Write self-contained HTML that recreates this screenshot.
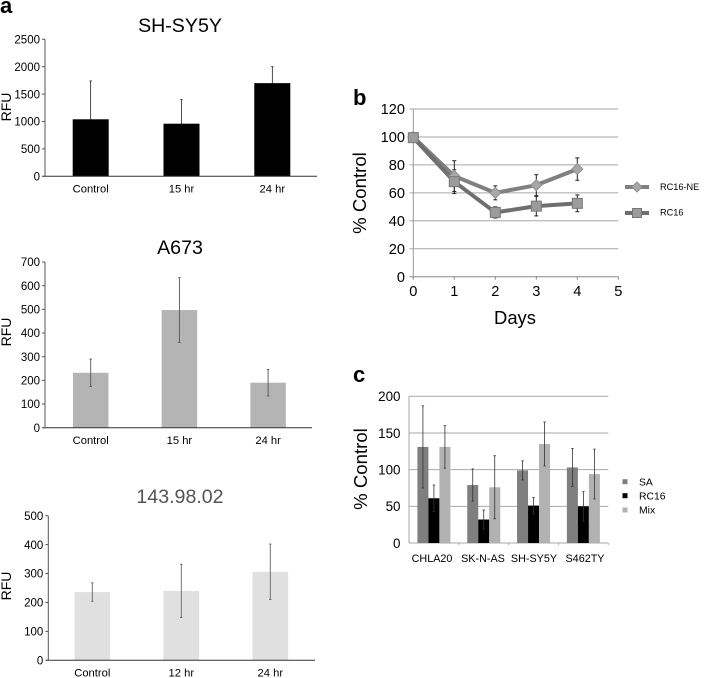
<!DOCTYPE html>
<html>
<head>
<meta charset="utf-8">
<title>RFU and percent control charts</title>
<style>
html,body{margin:0;padding:0;background:#fff;}
svg{display:block;font-family:"Liberation Sans",sans-serif;}
</style>
</head>
<body>
<svg id="figure" width="708" height="678" viewBox="0 0 708 678" xmlns="http://www.w3.org/2000/svg"></svg>
<script>
// Panel a data
const a1Categories = ['Control', '15 hr', '24 hr'];
const a1Values = [1040, 960, 1700];
const a1Errors = [700, 440, 300];
const a1Ticks = [0, 500, 1000, 1500, 2000, 2500];

const a2Categories = ['Control', '15 hr', '24 hr'];
const a2Values = [232, 497, 190];
const a2Errors = [58, 137, 56];
const a2Ticks = [0, 100, 200, 300, 400, 500, 600, 700];

const a3Categories = ['Control', '12 hr', '24 hr'];
const a3Values = [236, 240, 306];
const a3Errors = [32, 92, 96];
const a3Ticks = [0, 100, 200, 300, 400, 500];

// Panel b data
const bDays = [0, 1, 2, 3, 4];
const bNeValues = [100, 72, 60, 65.5, 77];
const bNeErrors = [0, 11, 5, 7.5, 8];
const bRc16Values = [99.5, 68, 46, 50.5, 52.5];
const bRc16Errors = [0, 8.5, 4, 7, 6];
const bXTicks = [0, 1, 2, 3, 4, 5];
const bYTicks = [0, 20, 40, 60, 80, 100, 120];

// Panel c data
const cCategories = ['CHLA20', 'SK-N-AS', 'SH-SY5Y', 'S462TY'];
const cSaValues = [131, 79, 99, 103];
const cSaErrors = [56, 22, 13, 26];
const cRc16Values = [61, 32, 51, 50];
const cRc16Errors = [18, 13, 11, 20];
const cMixValues = [131, 76, 135, 94];
const cMixErrors = [29, 43, 30, 34];
const cTicks = [0, 50, 100, 150, 200];

const SVGNS = 'http://www.w3.org/2000/svg';
const root = document.getElementById('figure');

function make(parent, tag, attrs, text) {
  const el = document.createElementNS(SVGNS, tag);
  for (const k in attrs) el.setAttribute(k, attrs[k]);
  if (text !== undefined) el.textContent = text;
  parent.appendChild(el);
  return el;
}
function linear(d0, d1, r0, r1) {
  return function (v) { return r0 + (v - d0) * (r1 - r0) / (d1 - d0); };
}
function label(parent, name, str, x, y, size, anchor, fill, extra) {
  const el = make(parent, 'text', Object.assign({ x: x, y: y, 'font-size': size, 'text-anchor': anchor, fill: fill }, extra || {}), str);
  
  
  return el;
}
function errorBar(parent, name, x, yTop, yBottom, color, capHalf, width) {
  const g = make(parent, 'g', { stroke: color, 'stroke-width': width, fill: 'none' });
  
  
  make(g, 'line', { x1: x, x2: x, y1: yTop, y2: yBottom });
  make(g, 'line', { x1: x - capHalf, x2: x + capHalf, y1: yTop, y2: yTop });
  make(g, 'line', { x1: x - capHalf, x2: x + capHalf, y1: yBottom, y2: yBottom });
}

function rfuChart(p) {
  const g = make(root, 'g', {});
  
  
  const y = linear(0, p.ticks[p.ticks.length - 1], p.y0, p.yTop);
  p.categories.forEach(function (cat, i) {
    const cx = p.x0 + p.firstOffset + i * p.step;
    const top = y(p.values[i]);
    const bar = make(g, 'rect', { x: cx - p.barW / 2, y: top, width: p.barW, height: p.y0 - top, fill: p.color });
    
    
    errorBar(g, 'error-bar-' + cat.replace(/\s+/g, '-').toLowerCase(), cx, y(p.values[i] + p.errors[i]), y(p.values[i] - p.errors[i]), p.errColor, 1.2, p.errW);
    label(g, 'x-tick-label', cat, cx, p.catY, 11.2, 'middle', '#000');
  });
  const xAxis = make(g, 'line', { x1: p.x0 - 2, x2: p.xEnd, y1: p.y0, y2: p.y0, stroke: '#333', 'stroke-width': 1 });
  
  
  const yAxis = make(g, 'line', { x1: p.x0, x2: p.x0, y1: p.yTop, y2: p.y0, stroke: '#555', 'stroke-width': 1 });
  
  
  p.ticks.forEach(function (t) {
    make(g, 'line', { x1: p.x0 - 3, x2: p.x0, y1: y(t), y2: y(t), stroke: '#555', 'stroke-width': 1 });
    label(g, 'y-tick-label', String(t), p.x0 - 5, y(t) + 4.2, 11.5, 'end', '#000');
  });
  label(g, 'chart-title', p.title, 180, p.titleY, 19.6, 'middle', p.titleColor);
  label(g, 'y-axis-title', 'RFU', 11, p.rfuY, 14, 'middle', '#000', { transform: 'rotate(-90 11 ' + p.rfuY + ')' });
}

rfuChart({ name: 'chart-sh-sy5y', title: 'SH-SY5Y', titleY: 32, titleColor: '#000', categories: a1Categories, values: a1Values, errors: a1Errors, ticks: a1Ticks, x0: 45, xEnd: 317, y0: 176.3, yTop: 39.3, firstOffset: 45.7, step: 90.8, barW: 36, color: '#000', errColor: '#000', errW: 0.7, catY: 192.5, rfuY: 107 });
rfuChart({ name: 'chart-a673', title: 'A673', titleY: 254, titleColor: '#000', categories: a2Categories, values: a2Values, errors: a2Errors, ticks: a2Ticks, x0: 45, xEnd: 312, y0: 427.7, yTop: 262, firstOffset: 45.7, step: 88.7, barW: 35.5, color: '#b4b4b4', errColor: '#555', errW: 0.9, catY: 444, rfuY: 332 });
rfuChart({ name: 'chart-143-98-02', title: '143.98.02', titleY: 503, titleColor: '#555', categories: a3Categories, values: a3Values, errors: a3Errors, ticks: a3Ticks, x0: 48.3, xEnd: 315, y0: 660.3, yTop: 515.7, firstOffset: 44, step: 89, barW: 35.7, color: '#e0e0e0', errColor: '#666', errW: 0.9, catY: 676.5, rfuY: 586 });

label(root, 'panel-label-a', 'a', 0, 13, 22, 'start', '#000', { 'font-weight': 'bold' });
label(root, 'panel-label-b', 'b', 353, 105, 22, 'start', '#000', { 'font-weight': 'bold' });
label(root, 'panel-label-c', 'c', 353, 382, 22, 'start', '#000', { 'font-weight': 'bold' });

// Panel b
(function () {
  const g = make(root, 'g', {});
  
  
  const x = linear(0, 5, 413.3, 618.3);
  const y = linear(0, 120, 276.7, 109);
  bYTicks.forEach(function (t) {
    const grid = make(g, 'line', { x1: 409.5, x2: 618.3, y1: y(t), y2: y(t), stroke: t === 0 ? '#888' : '#a6a6a6', 'stroke-width': 1 });
    
    
    label(g, 'y-tick-label', String(t), 405, y(t) + 5.2, 14.6, 'end', '#000');
  });
  const yAxis = make(g, 'line', { x1: x(0), x2: x(0), y1: y(120), y2: y(0), stroke: '#999', 'stroke-width': 1 });
  
  
  bXTicks.forEach(function (t) {
    make(g, 'line', { x1: x(t), x2: x(t), y1: y(0), y2: y(0) + 3, stroke: '#888', 'stroke-width': 1 });
    label(g, 'x-tick-label', String(t), x(t), 296, 14.6, 'middle', '#000');
  });
  label(g, 'x-axis-title', 'Days', 515, 324, 18.4, 'middle', '#000');
  label(g, 'y-axis-title', '% Control', 366, 193, 18.6, 'middle', '#000', { transform: 'rotate(-90 366 193)' });

  bDays.forEach(function (d, i) {
    if (bNeErrors[i] > 0) errorBar(g, 'error-bar-rc16-ne', x(d), y(bNeValues[i] + bNeErrors[i]), y(bNeValues[i] - bNeErrors[i]), '#222', 2, 1);
    if (bRc16Errors[i] > 0) errorBar(g, 'error-bar-rc16', x(d), y(bRc16Values[i] + bRc16Errors[i]), y(bRc16Values[i] - bRc16Errors[i]), '#222', 2, 1);
  });

  const nePts = bDays.map(function (d, i) { return x(d) + ',' + y(bNeValues[i]); }).join(' ');
  const neLine = make(g, 'polyline', { points: nePts, fill: 'none', stroke: '#808080', 'stroke-width': 4, 'stroke-linejoin': 'round' });
  
  
  const rcPts = bDays.map(function (d, i) { return x(d) + ',' + y(bRc16Values[i]); }).join(' ');
  const rcLine = make(g, 'polyline', { points: rcPts, fill: 'none', stroke: '#6f6f6f', 'stroke-width': 4, 'stroke-linejoin': 'round' });
  
  

  function diamond(parent, cx, cy, r) {
    const el = make(parent, 'polygon', { points: [cx, cy - r, cx + r, cy, cx, cy + r, cx - r, cy].join(' '), fill: '#a8a8a8', stroke: '#909090', 'stroke-width': 1 });
    
    
  }
  function square(parent, cx, cy, r) {
    const el = make(parent, 'rect', { x: cx - r, y: cy - r, width: 2 * r, height: 2 * r, fill: '#9c9c9c', stroke: '#777', 'stroke-width': 1 });
    
    
  }
  bDays.forEach(function (d, i) { diamond(g, x(d), y(bNeValues[i]), 5.5); });
  bDays.forEach(function (d, i) { square(g, x(d), y(bRc16Values[i]), 5); });

  const l1 = make(g, 'g', {});
  
  
  make(l1, 'line', { x1: 625, x2: 649, y1: 187, y2: 187, stroke: '#808080', 'stroke-width': 4 });
  diamond(l1, 637, 187, 5);
  label(l1, 'legend-label', 'RC16-NE', 660, 190, 9.2, 'start', '#000');
  const l2 = make(g, 'g', {});
  
  
  make(l2, 'line', { x1: 625, x2: 649, y1: 213, y2: 213, stroke: '#6f6f6f', 'stroke-width': 4 });
  square(l2, 637, 213, 4.5);
  label(l2, 'legend-label', 'RC16', 660, 215.5, 9.2, 'start', '#000');
})();

// Panel c
(function () {
  const g = make(root, 'g', {});
  
  
  const y = linear(0, 200, 543, 396.3);
  const x0 = 409;
  const xEnd = 608.3;
  const groupW = (xEnd - x0) / cCategories.length;
  const barW = 11;
  cTicks.forEach(function (t) {
    const grid = make(g, 'line', { x1: x0, x2: xEnd, y1: y(t), y2: y(t), stroke: '#a9a9a9', 'stroke-width': 1 });
    
    
    label(g, 'y-tick-label', String(t), 400.5, y(t) + 4.8, 13.4, 'end', '#000');
  });
  const yAxis = make(g, 'line', { x1: x0, x2: x0, y1: y(200), y2: y(0), stroke: '#aaa', 'stroke-width': 1 });
  
  
  const seriesNames = ['sa', 'rc16', 'mix'];
  const seriesValues = [cSaValues, cRc16Values, cMixValues];
  const seriesErrors = [cSaErrors, cRc16Errors, cMixErrors];
  const seriesColors = ['#7f7f7f', '#000000', '#b2b2b2'];
  cCategories.forEach(function (cat, i) {
    const cx = x0 + groupW * (i + 0.5);
    seriesNames.forEach(function (s, k) {
      const v = seriesValues[k][i];
      const bx = cx + (k - 1) * barW;
      const bar = make(g, 'rect', { x: bx - barW / 2, y: y(v), width: barW, height: y(0) - y(v), fill: seriesColors[k] });
      
      
    });
    seriesNames.forEach(function (s, k) {
      const v = seriesValues[k][i];
      const e = seriesErrors[k][i];
      const bx = cx + (k - 1) * barW;
      errorBar(g, 'error-bar-' + s + '-' + cat.toLowerCase(), bx, y(v + e), y(v - e), '#333', 1.2, 0.8);
    });
    label(g, 'x-tick-label', cat, 432 + 51 * i, 562, 10.8, 'middle', '#000');
    make(g, 'line', { x1: x0 + groupW * (i + 1), x2: x0 + groupW * (i + 1), y1: y(0), y2: y(0) + 2, stroke: '#aaa', 'stroke-width': 1 });
  });
  label(g, 'y-axis-title', '% Control', 367, 469, 18.6, 'middle', '#000', { transform: 'rotate(-90 367 469)' });
  const legendLabels = ['SA', 'RC16', 'Mix'];
  const legendRows = [481.7, 495.7, 510];
  legendLabels.forEach(function (t, k) {
    const row = make(g, 'g', {});
    
    
    make(row, 'rect', { x: 622.5, y: legendRows[k] - 2.5, width: 5, height: 5, fill: seriesColors[k] });
    label(row, 'legend-label', t, 639, legendRows[k] + 3.6, 10.4, 'start', '#000');
  });
})();
</script>
</body>
</html>
